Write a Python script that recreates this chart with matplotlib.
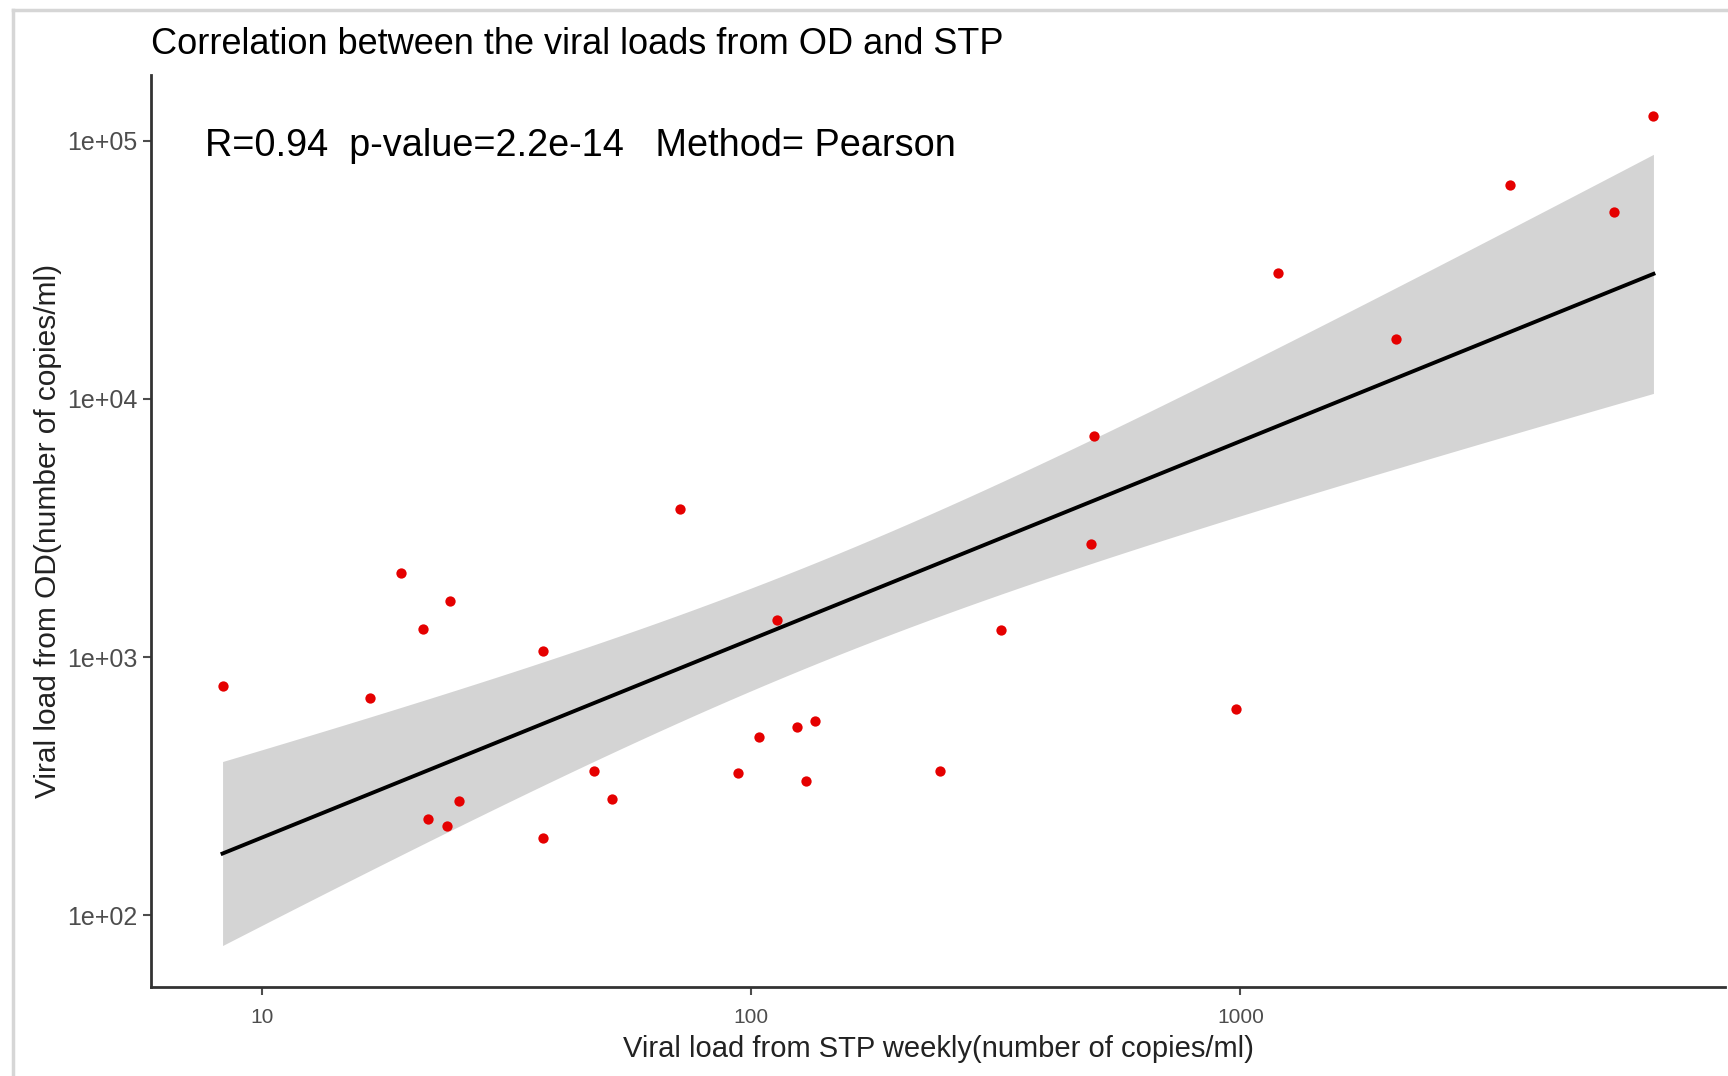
import numpy as np
import matplotlib
matplotlib.use("Agg")
import matplotlib.pyplot as plt
from matplotlib.lines import Line2D

# Viral loads (copies/ml)
stp_weekly = [8.3, 16.6, 19.2, 21.3, 24.2, 21.8, 23.9, 25.3, 37.5, 37.5,
              47.6, 51.8, 71.4, 94, 103.7, 113, 124, 129.6, 135, 243,
              324, 502, 494, 980, 1193, 2078, 3563, 5800, 6990]
od_load = [771, 692, 2116, 1283, 1656, 237, 222, 278, 1054, 199,
           362, 283, 3737, 355, 490, 1388, 536, 331, 563, 362,
           1270, 7211, 2731, 627, 30810, 17100, 67530, 52840, 124100]

title = "Correlation between the viral loads from OD and STP"
stats_label = "R=0.94  p-value=2.2e-14   Method= Pearson"
x_label = "Viral load from STP weekly(number of copies/ml)"
y_label = "Viral load from OD(number of copies/ml)"
y_ticks = [1e2, 1e3, 1e4, 1e5]
y_tick_labels = ["1e+02", "1e+03", "1e+04", "1e+05"]
x_ticks = [10, 100, 1000]
x_tick_labels = ["10", "100", "1000"]

plt.rcParams["font.family"] = ["Liberation Sans", "DejaVu Sans"]

# linear fit on log10 scale with 95% confidence band (like geom_smooth(method="lm"))
lx = np.log10(stp_weekly)
ly = np.log10(od_load)
n = len(lx)
slope, intercept = np.polyfit(lx, ly, 1)
resid = ly - (intercept + slope * lx)
s = np.sqrt(np.sum(resid ** 2) / (n - 2))
t_val = 2.052  # t(0.975, df=27)
grid = np.linspace(lx.min(), lx.max(), 80)
fit = intercept + slope * grid
se = s * np.sqrt(1 / n + (grid - lx.mean()) ** 2 / np.sum((lx - lx.mean()) ** 2))
lo = fit - t_val * se
hi = fit + t_val * se

fig = plt.figure(figsize=(17.28, 10.76), dpi=100)
ax = fig.add_axes([151 / 1728, 1 - 987 / 1076, (1725 - 151) / 1728, (987 - 75) / 1076])

ax.fill_between(10 ** grid, 10 ** lo, 10 ** hi, color="#d4d4d4", lw=0, zorder=1)
ax.plot(10 ** grid, 10 ** fit, color="black", lw=2.8, zorder=2)
ax.scatter(stp_weekly, od_load, s=55, color="#e50000", lw=0, zorder=3)

ax.set_xscale("log")
ax.set_yscale("log")

# ggplot-style 5% expansion
xr = [lx.min(), lx.max()]
yr = [min(ly.min(), lo.min()), max(ly.max(), hi.max())]
dx = (xr[1] - xr[0]) * 0.05
dy = (yr[1] - yr[0]) * 0.05
ax.set_xlim(10 ** (xr[0] - dx), 10 ** (xr[1] + dx))
ax.set_ylim(10 ** (yr[0] - dy), 10 ** (yr[1] + dy))

ax.set_xticks(x_ticks)
ax.set_xticklabels(x_tick_labels)
ax.set_yticks(y_ticks)
ax.set_yticklabels(y_tick_labels)
ax.minorticks_off()
ax.tick_params(axis="both", colors="#4d4d4d", length=6, width=1.5)
ax.tick_params(axis="x", labelsize=15, pad=9)
ax.tick_params(axis="y", labelsize=18)

for side in ["top", "right"]:
    ax.spines[side].set_visible(False)
for side in ["left", "bottom"]:
    ax.spines[side].set_color("#333333")
    ax.spines[side].set_linewidth(2.0)

ax.set_xlabel(x_label, fontsize=21, color="#222222", labelpad=6)
ax.set_ylabel(y_label, fontsize=21.5, color="#222222", labelpad=4)
fig.text(151 / 1728, 1 - 45 / 1076, title, fontsize=26, va="center", ha="left")
ax.text(0.034, 0.922, stats_label, transform=ax.transAxes, fontsize=27.3,
        va="center", ha="left")

# screenshot frame lines (top and left)
fig.add_artist(Line2D([13 / 1728, 1], [1 - 10 / 1076, 1 - 10 / 1076],
                      transform=fig.transFigure, color="#d6d6d6", lw=2.5))
fig.add_artist(Line2D([13 / 1728, 13 / 1728], [0, 1 - 10 / 1076],
                      transform=fig.transFigure, color="#d6d6d6", lw=2.5))

fig.savefig("out.png", dpi=100)
